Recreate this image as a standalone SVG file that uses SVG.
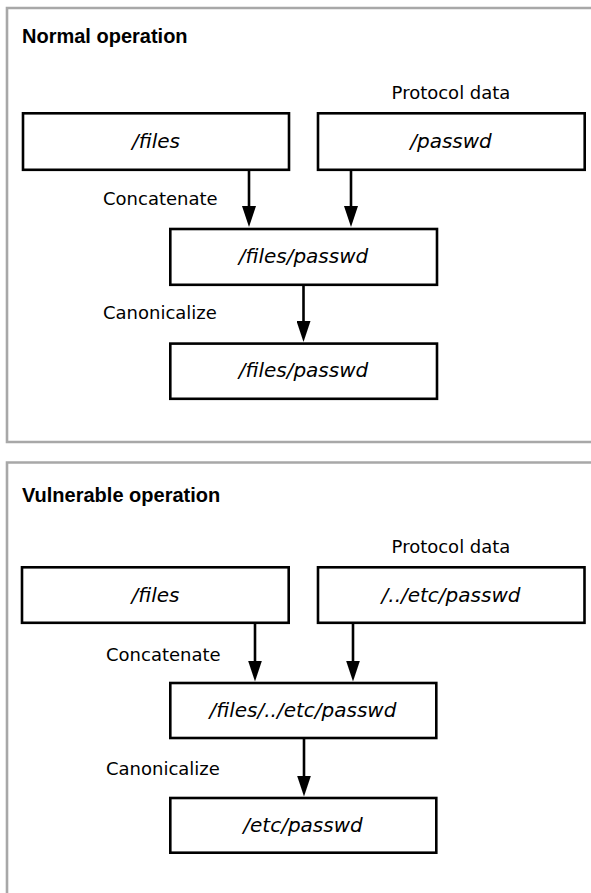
<svg xmlns="http://www.w3.org/2000/svg" width="591" height="893" viewBox="0 0 591 893">
<style>
.frame{fill:none;stroke:#a8a8a8;stroke-width:2.6}
.box{fill:#fff;stroke:#000;stroke-width:2.6}
.title{font-family:"Liberation Sans",Arial,sans-serif;font-weight:bold;font-size:20px;fill:#000}
.lbl{font-family:"DejaVu Sans","Liberation Sans",sans-serif;font-size:18px;fill:#000}
.val{font-family:"DejaVu Sans","Liberation Sans",sans-serif;font-style:italic;font-size:20px;fill:#000;text-anchor:middle}
.conn{stroke:#000;stroke-width:2.6;fill:none}
</style>
<defs>
<marker id="ah" viewBox="0 0 21 14" refX="6" refY="7" markerWidth="21" markerHeight="14" markerUnits="userSpaceOnUse" orient="auto">
<path d="M0,0 L21,7 L0,14 z" fill="#000"/>
</marker>
</defs>
<rect width="591" height="893" fill="#fff"/>
<g id="panel-normal">
<path class="frame" d="M600,8 H7 V442 H600"/>
<text class="title" x="22" y="43">Normal operation</text>
<text class="lbl" x="451" y="99" text-anchor="middle">Protocol data</text>
<text class="lbl" x="103" y="205">Concatenate</text>
<text class="lbl" x="103" y="319">Canonicalize</text>
</g>
<g id="panel-vulnerable">
<path class="frame" d="M600,462.5 H7 V900"/>
<text class="title" x="22" y="502">Vulnerable operation</text>
<text class="lbl" x="451" y="553" text-anchor="middle">Protocol data</text>
<text class="lbl" x="106" y="661">Concatenate</text>
<text class="lbl" x="106" y="775">Canonicalize</text>
</g>
<g id="connectors">
<line class="conn" x1="249" y1="171" x2="249" y2="212" marker-end="url(#ah)"/>
<line class="conn" x1="351" y1="171" x2="351" y2="212" marker-end="url(#ah)"/>
<line class="conn" x1="303.5" y1="286" x2="303.5" y2="327" marker-end="url(#ah)"/>
<line class="conn" x1="255" y1="624" x2="255" y2="666.5" marker-end="url(#ah)"/>
<line class="conn" x1="353" y1="624" x2="353" y2="666.5" marker-end="url(#ah)"/>
<line class="conn" x1="304" y1="739" x2="304" y2="781.5" marker-end="url(#ah)"/>
</g>
<g id="n-files">
<rect class="box" x="23" y="113.3" width="266" height="56.5"/>
<text class="val" x="156" y="148">/files</text>
</g>
<g id="n-passwd">
<rect class="box" x="318" y="113.3" width="266.7" height="56.5"/>
<text class="val" x="451" y="148">/passwd</text>
</g>
<g id="n-concat">
<rect class="box" x="170.3" y="229" width="266.7" height="55.8"/>
<text class="val" x="303.5" y="263">/files/passwd</text>
</g>
<g id="n-canon">
<rect class="box" x="170.3" y="343.6" width="266.7" height="55.2"/>
<text class="val" x="303.5" y="377">/files/passwd</text>
</g>
<g id="v-files">
<rect class="box" x="22" y="567.3" width="266.7" height="55.5"/>
<text class="val" x="155.5" y="602">/files</text>
</g>
<g id="v-passwd">
<rect class="box" x="318" y="567.3" width="266.5" height="55.5"/>
<text class="val" x="451" y="602">/../etc/passwd</text>
</g>
<g id="v-concat">
<rect class="box" x="170.3" y="683" width="266" height="55"/>
<text class="val" x="303" y="717">/files/../etc/passwd</text>
</g>
<g id="v-canon">
<rect class="box" x="170.3" y="798" width="266" height="54.7"/>
<text class="val" x="303" y="832">/etc/passwd</text>
</g>
</svg>
